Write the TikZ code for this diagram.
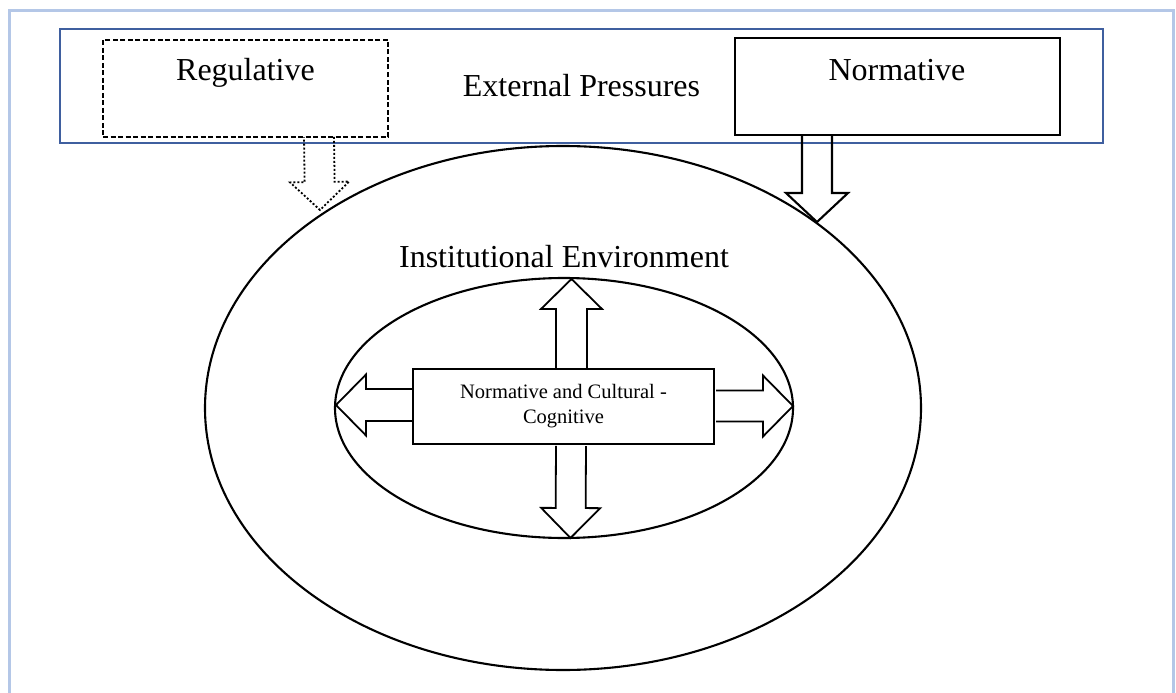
\documentclass[tikz,border=0pt]{standalone}
\usepackage{fontspec}
\setmainfont{Liberation Serif}
\usetikzlibrary{calc,shapes.geometric}

\definecolor{framecol}{HTML}{B4C7E7}
\definecolor{boxblue}{HTML}{3F5F9F}

% Hollow block arrow from #2 to tip #3:
% #4 shaft half-width, #5 head half-width, #6 head length (all in pt)
\newcommand{\blockarrow}[6][]{%
  \path[draw,#1] let \p1=($(#3)-(#2)$), \n1={veclen(\x1,\y1)},
      \n2={atan2(\y1,\x1)}, \n3={\n1-#6pt} in
    ($(#2)+(\n2+90:#4pt)$)
    -- ($(#2)+(\n2:\n3)+(\n2+90:#4pt)$)
    -- ($(#2)+(\n2:\n3)+(\n2+90:#5pt)$)
    -- (#3)
    -- ($(#2)+(\n2:\n3)+(\n2-90:#5pt)$)
    -- ($(#2)+(\n2:\n3)+(\n2-90:#4pt)$)
    -- ($(#2)+(\n2-90:#4pt)$);
}

\tikzset{
  bigtext/.style={font=\fontsize{32}{36}\selectfont, inner sep=0pt},
  smalltext/.style={font=\fontsize{20.5}{25}\selectfont, align=center, inner sep=0pt},
  boxnode/.style={draw, rectangle, inner sep=0pt, line width=2pt},
  ring/.style={draw, ellipse, inner sep=0pt, line width=2.1pt},
  arrowline/.style={line width=1.8pt, line join=miter},
}

\begin{document}
\begin{tikzpicture}[x=1pt, y=-1pt]
\useasboundingbox (0,0) rectangle (1176,693);

% page frame, open at the bottom
\draw[framecol, line width=3pt] (9,693) -- (9,11) -- (1173,11) -- (1173,693);

% external pressures band
\node[draw=boxblue, line width=2.2pt, rectangle, inner sep=0pt,
      minimum width=1043pt, minimum height=114pt] (ext) at (581.5,86) {};
\node[bigtext] (extT) at (581.5,86) {External Pressures};

% regulative (dashed) and normative boxes
\node[boxnode, dash pattern=on 5pt off 2.5pt, line width=2.2pt,
      minimum width=285pt, minimum height=97pt] (reg) at (245.5,88.5) {};
\node[bigtext] (regT) at (245.5,73) {Regulative};
\node[boxnode, line width=2.6pt,
      minimum width=325pt, minimum height=97pt] (norm) at (897.5,86.5) {};
\node[bigtext] (normT) at (897,70) {Normative};

% institutional environment
\node[ring, minimum width=716pt, minimum height=524pt] (outer) at (563,408) {};
\node[bigtext] (instT) at (564,257) {Institutional Environment};
\node[ring, minimum width=458pt, minimum height=260pt] (inner) at (564,408) {};

% core box
\node[boxnode, minimum width=301pt, minimum height=75pt,
      smalltext] (cog) at (563.5,406.5) {Normative and Cultural -\\Cognitive};

% arrow end points
\coordinate (regS)  at (319,137);  \coordinate (regE)  at (320,210);
\coordinate (normS) at (817,135);  \coordinate (normE) at (817,222);
\coordinate (upS)   at (571.5,369);\coordinate (upE)   at (571.5,279);
\coordinate (dnS)   at (571,446);  \coordinate (dnE)   at (570.5,538);
\coordinate (lfS)   at (413,405);  \coordinate (lfE)   at (336,405);
\coordinate (rtS)   at (716,406);  \coordinate (rtE)   at (793,406);

% arrows from the pressures into the environment
\blockarrow[arrowline, dash pattern=on 2pt off 2pt]{regS}{regE}{15}{29.5}{28}
\blockarrow[arrowline, line width=2.1pt]{normS}{normE}{15}{31}{29}

% arrows from the core outwards
\blockarrow[arrowline]{upS}{upE}{15.5}{30.5}{30}
\blockarrow[arrowline]{dnS}{dnE}{15}{29.5}{30}
\blockarrow[arrowline]{lfS}{lfE}{16}{30.5}{30}
\blockarrow[arrowline]{rtS}{rtE}{15.5}{30.5}{30}
\end{tikzpicture}
\end{document}
